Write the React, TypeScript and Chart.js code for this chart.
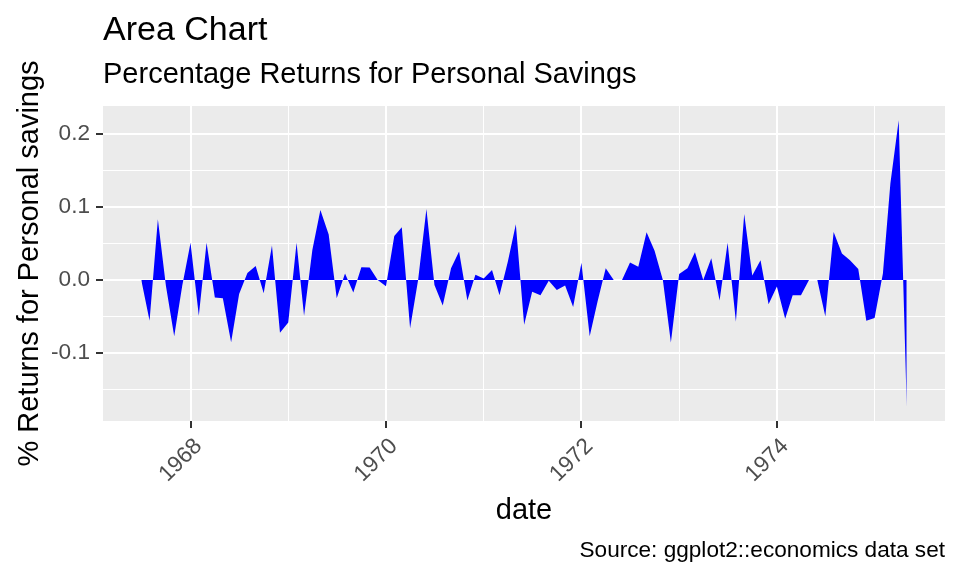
import React, { useEffect, useRef } from "react";
import { Chart, registerables } from "chart.js";

Chart.register(...registerables);

// Monthly dates (first of month)
const months: string[] = [
  "1967-07", "1967-08", "1967-09", "1967-10", "1967-11", "1967-12",
  "1968-01", "1968-02", "1968-03", "1968-04", "1968-05", "1968-06",
  "1968-07", "1968-08", "1968-09", "1968-10", "1968-11", "1968-12",
  "1969-01", "1969-02", "1969-03", "1969-04", "1969-05", "1969-06",
  "1969-07", "1969-08", "1969-09", "1969-10", "1969-11", "1969-12",
  "1970-01", "1970-02", "1970-03", "1970-04", "1970-05", "1970-06",
  "1970-07", "1970-08", "1970-09", "1970-10", "1970-11", "1970-12",
  "1971-01", "1971-02", "1971-03", "1971-04", "1971-05", "1971-06",
  "1971-07", "1971-08", "1971-09", "1971-10", "1971-11", "1971-12",
  "1972-01", "1972-02", "1972-03", "1972-04", "1972-05", "1972-06",
  "1972-07", "1972-08", "1972-09", "1972-10", "1972-11", "1972-12",
  "1973-01", "1973-02", "1973-03", "1973-04", "1973-05", "1973-06",
  "1973-07", "1973-08", "1973-09", "1973-10", "1973-11", "1973-12",
  "1974-01", "1974-02", "1974-03", "1974-04", "1974-05", "1974-06",
  "1974-07", "1974-08", "1974-09", "1974-10", "1974-11", "1974-12",
  "1975-01", "1975-02", "1975-03", "1975-04", "1975-05",
];

// Percentage returns for personal savings
const returnsPerc: number[] = [
  0, -0.0556, 0.083, -0.008, -0.077, -0.008,
  0.051, -0.049, 0.051, -0.024, -0.025, -0.085,
  -0.019, 0.0095, 0.019, -0.018, 0.047, -0.072,
  -0.058, 0.051, -0.049, 0.041, 0.0955, 0.062,
  -0.025, 0.0087, -0.017, 0.0175, 0.017, 0,
  -0.0085, 0.06, 0.072, -0.066, 0.0, 0.097,
  -0.007, -0.035, 0.016, 0.039, -0.028, 0.007,
  0.002, 0.0136, -0.021, 0.025, 0.076, -0.061,
  -0.016, -0.021, -0.001, -0.0136, -0.0077, -0.037,
  0.0236, -0.077, -0.03, 0.016, 0, 0,
  0.024, 0.018, 0.065, 0.04, 0, -0.0855,
  0.0082, 0.016, 0.038, 0.0, 0.0295, -0.028,
  0.051, -0.057, 0.09, 0.006, 0.027, -0.033,
  -0.009, -0.053, -0.021, -0.021, 0, 0,
  -0.05, 0.0655, 0.036, 0.027, 0.015, -0.0555,
  -0.052, 0.009, 0.132, 0.218, -0.173,
];

const xMajorTicks = [1968, 1970, 1972, 1974];
const xMinorTicks = [1969, 1971, 1973, 1975];
const yMajorTicks = [-0.1, 0, 0.1, 0.2];
const yMinorTicks = [-0.15, -0.05, 0.05, 0.15];

const titleText = "Area Chart";
const subtitleText = "Percentage Returns for Personal Savings";
const xTitle = "date";
const yTitle = "% Returns for Personal savings";
const captionText = "Source: ggplot2::economics data set";

const FONT = "'Liberation Sans', Arial, Helvetica, sans-serif";

function toYear(m: string): number {
  const [y, mo] = m.split("-").map(Number);
  const start = Date.UTC(y, 0, 1);
  const end = Date.UTC(y + 1, 0, 1);
  return y + (Date.UTC(y, mo - 1, 1) - start) / (end - start);
}

const isMajor = (v: number, list: number[]) => list.some((t) => Math.abs(t - v) < 1e-9);

export default function App() {
  const ref = useRef<HTMLCanvasElement | null>(null);

  useEffect(() => {
    document.body.style.margin = "0";
    const canvas = ref.current;
    if (!canvas) return;

    const points = months.map((m, i) => ({ x: toYear(m), y: returnsPerc[i] }));
    const xs = points.map((p) => p.x);
    const ys = points.map((p) => p.y);
    const xmin = Math.min(...xs), xmax = Math.max(...xs);
    const ymin = Math.min(...ys), ymax = Math.max(...ys);
    const xpad = (xmax - xmin) * 0.05;
    const ypad = (ymax - ymin) * 0.05;

    const decor = {
      id: "decor",
      beforeDraw(chart: any) {
        const { ctx, chartArea: a } = chart;
        ctx.save();
        ctx.fillStyle = "#FFFFFF";
        ctx.fillRect(0, 0, chart.width, chart.height);
        ctx.fillStyle = "#EBEBEB";
        ctx.fillRect(a.left, a.top, a.right - a.left, a.bottom - a.top);
        ctx.restore();
      },
      afterDraw(chart: any) {
        const { ctx, chartArea: a } = chart;
        ctx.save();
        ctx.fillStyle = "#000000";
        ctx.textAlign = "left";
        ctx.textBaseline = "alphabetic";
        ctx.font = `34px ${FONT}`;
        ctx.fillText(titleText, a.left, 40);
        ctx.font = `29px ${FONT}`;
        ctx.fillText(subtitleText, a.left, 83);
        ctx.textAlign = "center";
        ctx.fillText(xTitle, (a.left + a.right) / 2, 519);
        ctx.save();
        ctx.translate(38, (a.top + a.bottom) / 2);
        ctx.rotate(-Math.PI / 2);
        ctx.fillText(yTitle, 0, 0);
        ctx.restore();
        ctx.textAlign = "right";
        ctx.font = `22.6px ${FONT}`;
        ctx.fillText(captionText, a.right, 557);
        ctx.restore();
      },
    };

    const chart = new Chart(canvas, {
      type: "line",
      data: {
        datasets: [
          {
            data: points,
            fill: "origin",
            backgroundColor: "#0000FF",
            borderColor: "rgba(0,0,0,0)",
            borderWidth: 0,
            pointRadius: 0,
            tension: 0,
          },
        ],
      },
      options: {
        animation: false,
        responsive: false,
        devicePixelRatio: 1,
        layout: { padding: { top: 106, right: 15, left: 0, bottom: 0 } },
        plugins: {
          legend: { display: false },
          title: { display: false },
          tooltip: { enabled: false },
        },
        scales: {
          x: {
            type: "linear",
            min: xmin - xpad,
            max: xmax + xpad,
            afterFit: (s: any) => {
              s.height = 155;
            },
            afterBuildTicks: (s: any) => {
              s.ticks = [...xMajorTicks, ...xMinorTicks]
                .sort((a, b) => a - b)
                .map((v) => ({ value: v }));
            },
            border: { display: false },
            grid: {
              color: "#FFFFFF",
              lineWidth: (c: any) => (c.tick && isMajor(c.tick.value, xMajorTicks) ? 2 : 1),
              tickColor: (c: any) =>
                c.tick && isMajor(c.tick.value, xMajorTicks) ? "#333333" : "rgba(0,0,0,0)",
              tickLength: 7,
              tickWidth: 2,
            },
            ticks: {
              autoSkip: false,
              maxRotation: 45,
              minRotation: 45,
              padding: 5,
              labelOffset: 8,
              color: "#4D4D4D",
              font: { family: FONT, size: 22.6 },
              callback: (v: any) => (isMajor(Number(v), xMajorTicks) ? String(v) : ""),
            },
          },
          y: {
            type: "linear",
            min: ymin - ypad,
            max: ymax + ypad,
            afterFit: (s: any) => {
              s.width = 103;
            },
            afterBuildTicks: (s: any) => {
              s.ticks = [...yMajorTicks, ...yMinorTicks]
                .sort((a, b) => a - b)
                .map((v) => ({ value: v }));
            },
            border: { display: false },
            grid: {
              color: "#FFFFFF",
              lineWidth: (c: any) => (c.tick && isMajor(c.tick.value, yMajorTicks) ? 2 : 1),
              tickColor: (c: any) =>
                c.tick && isMajor(c.tick.value, yMajorTicks) ? "#333333" : "rgba(0,0,0,0)",
              tickLength: 7,
              tickWidth: 2,
            },
            ticks: {
              autoSkip: false,
              padding: 6,
              color: "#4D4D4D",
              font: { family: FONT, size: 22.6 },
              callback: (v: any) => (isMajor(Number(v), yMajorTicks) ? Number(v).toFixed(1) : ""),
            },
          },
        },
      },
      plugins: [decor],
    });

    return () => chart.destroy();
  }, []);

  return <canvas ref={ref} width={960} height={576} style={{ display: "block", width: 960, height: 576 }} />;
}
